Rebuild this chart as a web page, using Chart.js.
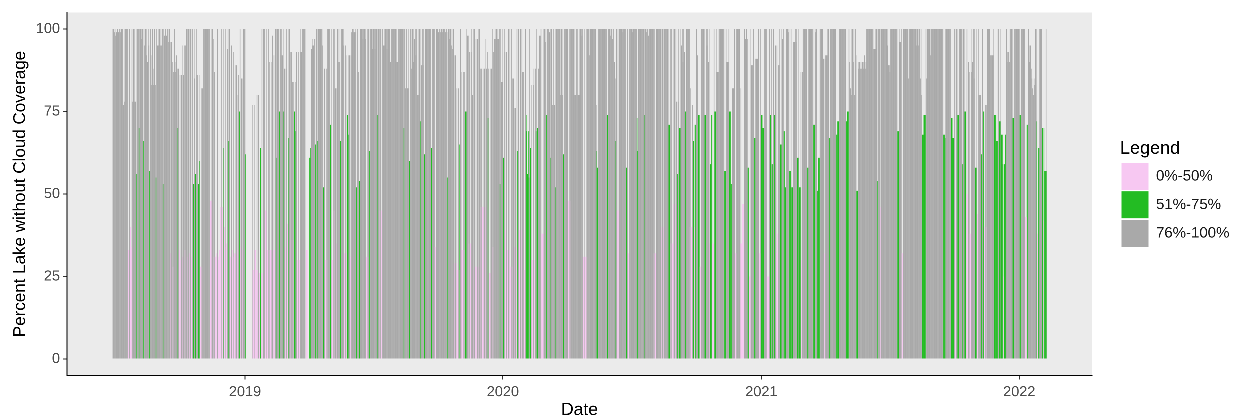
<!DOCTYPE html>
<html>
<head>
<meta charset="utf-8">
<title>Percent Lake without Cloud Coverage</title>
<script src="https://cdn.jsdelivr.net/npm/chart.js@4.4.1/dist/chart.umd.min.js"></script>
<style>
  html, body { margin: 0; padding: 0; background: #ffffff; }
  #wrap { position: relative; width: 1233px; height: 419px; }
  canvas { display: block; }
</style>
</head>
<body>
<div id="wrap"><canvas id="chart" width="1233" height="419"></canvas></div>
<script>
// First date of each yearly block of daily observations
const seriesStart = ['2018-06-28', '2019-01-01', '2020-01-01', '2021-01-01', '2022-01-01'];

// Daily percent of the lake free of cloud (null = no observation)
const lake2018 = [
  100,100,99,100,98,99,100,100,99,100,
  100,99,100,100,100,77,78,100,100,100,
  100,100,33,100,100,40,34,100,78,100,
  78,100,78,56,100,100,100,70,100,100,
  100,97,100,66,100,95,100,92,100,90,
  100,95,57,100,92,83,100,83,88,100,
  83,55,100,95,100,95,100,95,100,95,
  100,53,100,98,100,100,98,100,100,96,
  100,96,32,96,90,28,87,100,90,87,
  92,88,70,88,33,86,30,86,95,31,
  86,95,33,95,100,31,100,100,32,100,
  100,31,100,100,53,100,85,56,100,86,
  86,53,86,60,28,82,28,82,100,100,
  100,100,100,100,100,100,100,100,48,100,
  48,100,97,31,87,31,31,32,100,31,
  30,33,46,46,100,46,64,100,40,100,
  34,35,94,100,66,100,31,31,95,33,
  31,93,32,89,32,89,33,80,86,75,
  100,34,85,33,85,100,100
];
const lake2019 = [
  100,62,null,null,null,null,null,null,null,null,
  27,77,27,77,33,33,27,80,27,80,
  26,26,64,26,100,26,100,100,100,45,
  100,45,33,100,33,90,33,90,33,98,
  33,92,33,100,61,100,100,100,100,75,
  100,92,100,92,75,100,88,34,88,100,
  41,100,67,100,93,36,93,84,36,84,
  75,84,69,93,30,30,93,30,93,100,
  93,100,100,100,100,100,null,33,33,null,
  null,61,61,64,94,95,97,95,97,97,
  65,100,100,66,100,100,100,100,100,100,
  95,52,88,88,30,88,30,100,100,100,
  100,71,100,30,30,100,45,100,82,35,
  82,100,90,100,90,66,100,100,100,100,
  95,32,95,92,32,74,92,68,92,31,
  92,99,100,99,100,99,100,99,52,100,
  87,87,54,100,100,100,100,97,100,100,
  97,100,31,100,31,100,63,100,100,100,
  100,94,100,100,94,100,100,100,74,100,
  100,45,100,45,100,100,95,100,95,100,
  100,94,100,100,100,100,90,100,100,100,
  100,100,100,100,100,90,90,100,100,100,
  100,100,100,100,100,70,100,82,100,100,
  82,100,82,60,100,100,88,100,90,100,
  97,100,92,100,80,100,80,100,72,100,
  89,100,89,100,62,100,100,100,100,100,
  100,100,100,100,64,100,100,100,100,34,
  34,100,100,100,99,100,100,99,100,100,
  99,100,100,100,99,100,99,55,100,100,
  97,100,95,100,94,100,92,29,92,29,
  82,27,82,27,65,100,33,87,33,87,
  33,87,75,75,100,98,98,35,93,35,
  93,100,80,100,27,100,28,97,28,97,
  28,100,100,88,46,88,46,88,46,88,
  46,97,88,93,73,88,26,88,26,88,
  100,34,93,97,100,97,100,97,100,97,
  100,53,100,84,84
];
const lake2020 = [
  100,61,100,93,39,93,33,33,100,33,
  100,28,100,28,85,85,76,34,76,34,
  100,63,100,39,39,100,39,100,87,87,
  27,27,100,74,69,56,69,55,100,64,
  30,83,30,83,88,30,88,69,100,70,
  88,88,98,98,100,38,38,100,38,100,
  96,100,74,100,100,100,99,100,61,100,
  77,77,100,77,100,52,100,100,100,100,
  100,100,80,100,80,100,62,100,100,100,
  100,100,100,48,100,48,100,100,100,100,
  100,80,100,80,100,80,100,80,100,80,
  100,100,98,100,31,31,100,31,100,31,
  100,100,100,92,100,100,100,100,100,100,
  100,100,63,77,58,100,100,100,100,100,
  100,100,100,100,100,100,100,100,74,100,
  100,100,98,100,100,97,100,100,90,85,
  66,100,45,100,45,100,100,100,100,100,
  99,100,100,100,100,58,100,100,32,100,
  100,100,100,99,100,100,100,100,100,100,
  73,63,100,100,100,100,100,100,100,100,
  74,100,100,99,100,100,98,100,100,100,
  100,100,100,100,32,100,32,100,100,100,
  100,100,100,100,100,40,100,40,100,100,
  100,100,100,100,71,100,71,100,35,100,
  35,100,47,100,47,100,78,56,78,100,
  70,70,100,95,100,90,100,93,75,75,
  100,100,100,100,100,40,82,40,77,77,
  66,40,71,71,100,92,92,74,74,28,
  28,100,100,100,100,100,74,74,100,95,
  100,90,100,35,59,74,74,35,35,100,
  75,75,100,87,87,87,100,100,100,100,
  100,100,100,100,57,57,100,90,90,90,
  100,75,75,53,53,82,82,82,100,32,
  32,100,100,100,100,100,35,82,35,47,
  47,47,100,97,97,100,97,58,58,25,
  100,25,89,89,89,100,67,67,91,91,
  91,91,100,32,32,100
];
const lake2021 = [
  74,74,70,70,100,100,100,100,25,25,
  25,100,100,74,100,59,59,100,74,74,
  95,32,95,38,89,89,100,65,65,100,
  97,100,69,69,52,100,100,100,99,100,
  57,57,100,52,52,96,96,96,100,96,
  100,61,61,100,52,52,87,30,87,100,
  100,100,100,100,100,58,58,100,100,100,
  100,100,100,100,71,71,100,99,100,51,
  51,61,61,100,100,100,100,100,91,32,
  91,92,92,92,100,100,67,67,100,100,
  100,100,100,100,100,100,68,68,72,72,
  100,100,100,100,100,100,100,100,100,100,
  72,72,75,75,100,90,82,100,80,100,
  90,100,80,100,92,51,51,90,88,90,
  88,90,88,90,88,90,92,88,90,100,
  100,100,100,100,100,100,100,100,100,94,
  94,94,100,100,54,100,100,100,100,46,
  100,100,100,100,100,100,100,100,95,100,
  89,89,87,100,100,100,100,100,100,100,
  100,100,100,69,69,100,96,96,100,32,
  32,100,100,100,100,100,100,100,85,100,
  100,100,100,100,100,100,100,100,100,95,
  100,100,95,100,100,85,100,80,68,68,
  74,74,74,100,85,100,100,100,100,92,
  100,100,100,100,100,100,100,100,100,100,
  100,100,100,100,100,100,100,100,68,68,
  67,100,100,100,100,100,100,100,100,73,
  73,67,67,100,100,42,100,100,74,74,
  100,100,100,100,100,59,100,100,75,75,
  50,100,50,90,38,87,38,87,100,90,
  100,85,100,58,58,100,44,100,80,80,
  80,62,62,100,75,75,40,77,40,77,
  100,100,100,100,92,92,92,92,92,100,
  74,74,74,66,66,100,100,72,72,100,
  68,68,59,25,59,68,68,100,93,90,
  93,90,100,100,100,100,73,73,100,100,
  100,100,100,100,100
];
const lake2022 = [
  100,74,74,100,100,100,100,100,100,43,
  43,71,71,100,95,90,95,88,85,82,
  80,85,83,100,100,72,38,64,64,100,
  100,100,100,70,42,70,57,57,100,57
];

// Axis ticks and legend classes
const yearLabels = ['2019', '2020', '2021', '2022'];
const yTickValues = [0, 25, 50, 75, 100];
const classNames = ['0%-50%', '51%-75%', '76%-100%'];
const classUpper = [50, 75, 100];
const classColors = ['#F7C8F2', '#23BC23', '#A9A9A9'];

const FONT = "'Liberation Sans', Arial, Helvetica, sans-serif";
const DAY_MS = 86400000;
const ORIGIN = Date.UTC(2019, 0, 1);

function dayOffset(iso) {
  const [y, m, d] = iso.split('-').map(Number);
  return Math.round((Date.UTC(y, m - 1, d) - ORIGIN) / DAY_MS);
}

const yearTicks = yearLabels.map(y => dayOffset(y + '-01-01'));

// Split the daily observations into the three coverage classes
const blocks = [lake2018, lake2019, lake2020, lake2021, lake2022];
const buckets = classNames.map(() => []);
blocks.forEach((values, b) => {
  const start = dayOffset(seriesStart[b]);
  values.forEach((v, i) => {
    if (v === null || v === undefined) return;
    const cls = classUpper.findIndex(u => v <= u);
    buckets[cls].push({ x: start + i, y: v });
  });
});

// Legend geometry: the panel ends at x = 1092 and the legend column starts 28px further right
const LEGEND_FONT_SIZE = 15;
const LEGEND_BOX = 27;
const LEGEND_PAD = 1.5;
const PANEL_GAP = 28;
const measureCtx = document.createElement('canvas').getContext('2d');
measureCtx.font = LEGEND_FONT_SIZE + 'px ' + FONT;
const widestLabel = Math.max(...classNames.map(t => measureCtx.measureText(t).width));
const legendWidth = LEGEND_PAD + LEGEND_BOX + LEGEND_FONT_SIZE / 2 + widestLabel + 10;
const rightPadding = (1233 - 1092) - PANEL_GAP - legendWidth;

const panelBackground = {
  id: 'panelBackground',
  beforeDraw(chart) {
    const { ctx, chartArea: a } = chart;
    ctx.save();
    ctx.fillStyle = '#EBEBEB';
    ctx.fillRect(a.left, a.top, a.right - a.left, a.bottom - a.top);
    ctx.restore();
  }
};

new Chart(document.getElementById('chart'), {
  type: 'bar',
  data: {
    datasets: classNames.map((name, k) => ({
      label: name,
      data: buckets[k],
      backgroundColor: classColors[k],
      borderWidth: 0,
      grouped: false,
      barPercentage: 1,
      categoryPercentage: 1,
      inflateAmount: 0,
      xAxisID: 'x',
      yAxisID: 'y'
    }))
  },
  options: {
    responsive: false,
    animation: false,
    devicePixelRatio: 4,
    layout: { padding: { top: 12.5, right: rightPadding, bottom: 0, left: 0 } },
    plugins: {
      tooltip: { enabled: false },
      legend: {
        position: 'right',
        fullSize: false,
        align: 'center',
        title: {
          display: true,
          text: 'Legend',
          position: 'start',
          color: '#000000',
          font: { family: FONT, size: 18 },
          padding: 0
        },
        labels: {
          boxWidth: LEGEND_BOX,
          boxHeight: LEGEND_BOX,
          padding: LEGEND_PAD,
          color: '#1A1A1A',
          font: { family: FONT, size: LEGEND_FONT_SIZE }
        }
      }
    },
    scales: {
      x: {
        type: 'linear',
        min: -252,
        max: 1199,
        offset: false,
        afterBuildTicks(scale) { scale.ticks = yearTicks.map(v => ({ value: v })); },
        afterFit(scale) { scale.height = 43.5; },
        ticks: {
          autoSkip: false,
          maxRotation: 0,
          padding: 4,
          color: '#4D4D4D',
          font: { family: FONT, size: 14.5 },
          callback(v) {
            const i = yearTicks.indexOf(v);
            return i >= 0 ? yearLabels[i] : '';
          }
        },
        grid: { display: true, offset: false, drawOnChartArea: false, drawTicks: true, tickLength: 4, color: '#333333', lineWidth: 1 },
        border: { display: true, color: '#000000', width: 1 },
        title: {
          display: true,
          text: 'Date',
          color: '#000000',
          font: { family: FONT, size: 17.5, lineHeight: 1 },
          padding: { top: 0, bottom: 0 }
        }
      },
      y: {
        type: 'linear',
        min: -5,
        max: 105,
        afterBuildTicks(scale) { scale.ticks = yTickValues.map(v => ({ value: v })); },
        afterFit(scale) { scale.width = 67; },
        ticks: {
          padding: 3,
          color: '#4D4D4D',
          font: { family: FONT, size: 14.5 }
        },
        grid: { display: true, drawOnChartArea: false, drawTicks: true, tickLength: 4, color: '#333333', lineWidth: 1 },
        border: { display: true, color: '#000000', width: 1 },
        title: {
          display: true,
          text: 'Percent Lake without Cloud Coverage',
          color: '#000000',
          font: { family: FONT, size: 17 },
          padding: { top: 10, bottom: 0 }
        }
      },
      // spacer between the panel and the legend
      gap: {
        type: 'linear',
        position: 'right',
        display: true,
        ticks: { display: false },
        grid: { display: false },
        border: { display: false },
        afterFit(scale) { scale.width = PANEL_GAP; }
      }
    }
  },
  plugins: [panelBackground]
});
</script>
</body>
</html>
